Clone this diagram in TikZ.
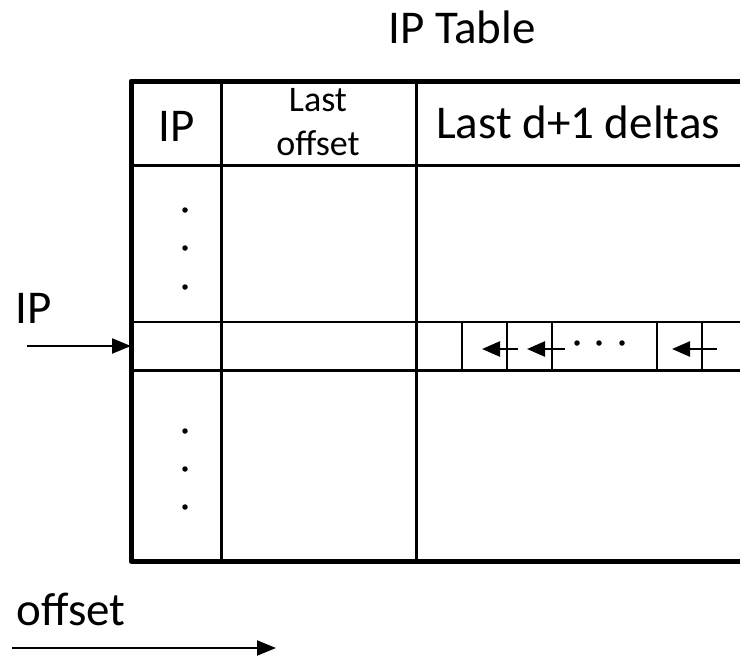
\documentclass[tikz,border=0pt]{standalone}
\usepackage{fontspec}
\setmainfont{Carlito}
\usetikzlibrary{arrows.meta}
\tikzset{
  frame/.style={line width=5pt, line join=round},
  grid/.style={line width=3pt},
  cellline/.style={line width=2.4pt},
  big/.style={font=\fontsize{47}{56}\selectfont, inner sep=0pt, anchor=base},
  small/.style={font=\fontsize{36}{44}\selectfont, inner sep=0pt, anchor=base},
  feed/.style={line width=2.2pt, -{Triangle[length=19pt,width=15pt]}},
  shift arrow/.style={line width=2.4pt, -{Triangle[length=18pt,width=15pt]}},
  dot/.style={fill=black, circle, inner sep=0pt, minimum size=5.5pt}
}
\begin{document}
\begin{tikzpicture}[x=1pt,y=-1pt]
\useasboundingbox (0,0) rectangle (740,656);

% title
\node[big] (title) at (462,43) {IP Table};

% inner rules of the table
\draw[grid] (221,81) -- (221,559);
\draw[grid] (416,81) -- (416,559);
\draw[grid] (131,165) -- (740,165);
\draw[cellline] (131,322) -- (740,322);
\draw[grid] (131,370) -- (740,370);

% outer frame, open on the right
\draw[frame] (740,81) -- (131,81) -- (131,561) -- (740,561);

% header
\node[big] (hip) at (177,141) {IP};
\node[small] (hlast) at (318,111) {Last};
\node[small] (hoff) at (318,155) {offset};
\node[big] (hdelta) at (578,138) {Last d+1 deltas};

% elided rows in the IP column
\foreach \y [count=\i] in {210,248,287,431,469,507}
  \node[dot] (vd\i) at (185,\y) {};

% delta history cells in the selected row
\foreach \x in {462,507,552,657,702}
  \draw[cellline] (\x,322) -- (\x,370);
\foreach \x [count=\i] in {577,599,622}
  \node[dot] (hd\i) at (\x,343) {};

\coordinate (a1s) at (518,349); \coordinate (a1e) at (482,349);
\coordinate (a2s) at (565,349); \coordinate (a2e) at (527,349);
\coordinate (a3s) at (717,349); \coordinate (a3e) at (672,349);
\draw[shift arrow] (a1s) -- (a1e);
\draw[shift arrow] (a2s) -- (a2e);
\draw[shift arrow] (a3s) -- (a3e);

% incoming IP
\node[big] (ipin) at (34,323) {IP};
\coordinate (ipstart) at (27,346);
\coordinate (iptip) at (131,346);
\draw[feed] (ipstart) -- (iptip);

% offset direction
\node[big] (offlabel) at (71,625) {offset};
\coordinate (offstart) at (12,648);
\coordinate (offtip) at (276,648);
\draw[feed] (offstart) -- (offtip);
\end{tikzpicture}
\end{document}
